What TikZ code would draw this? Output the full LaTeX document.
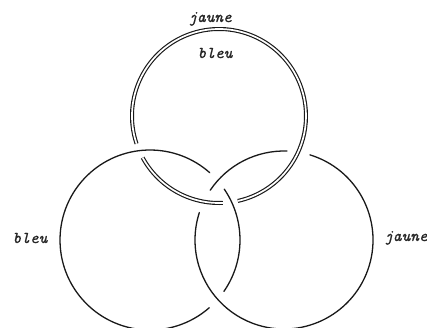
\documentclass[tikz,border=0pt]{standalone}
\usepackage{fontspec}
\newfontface\labfont{lmmono10-italic.otf}[FakeBold=0.8]
\begin{document}
\begin{tikzpicture}[x=1pt,y=-1pt,
  ring/.style={line width=1.3pt, black!90, line cap=round},
  dring/.style={line width=1.15pt, black!90, double=white, double distance=1.7pt},
  lab/.style={font={\fontsize{16.5}{18}\selectfont\labfont}, inner sep=0pt, text=black!85}]
\useasboundingbox[fill=white] (0,0) rectangle (427,327);
\coordinate (T) at (219,116);
\coordinate (L) at (150,240);
\coordinate (R) at (284,240);
% top ring (double): under L at both crossings
\draw[dring] ([shift={(87.5:87)}]T) arc[start angle=87.5, end angle=151.4, radius=87];
\draw[dring] ([shift={(161.4:87)}]T) arc[start angle=161.4, end angle=437.5, radius=87];
% left ring: under R at both crossings
\draw[ring] ([shift={(-34.4:90)}]L) arc[start angle=-34.4, end angle=34.8, radius=90];
\draw[ring] ([shift={(48.8:90)}]L) arc[start angle=48.8, end angle=311.6, radius=90];
% right ring: under T at both crossings
\draw[ring] ([shift={(214:89)}]R) arc[start angle=214, end angle=271.9, radius=89];
\draw[ring] ([shift={(286.9:89)}]R) arc[start angle=286.9, end angle=558, radius=89];
% labels
\node[lab, anchor=base] (jt) at (210,22) {jaune};
\node[lab, anchor=base] (bt) at (215,58) {bleu};
\node[lab, anchor=base] (bl) at (30,243) {bleu};
\node[lab, anchor=base west] (jr) at (384,241) {jaune};
\end{tikzpicture}
\end{document}
